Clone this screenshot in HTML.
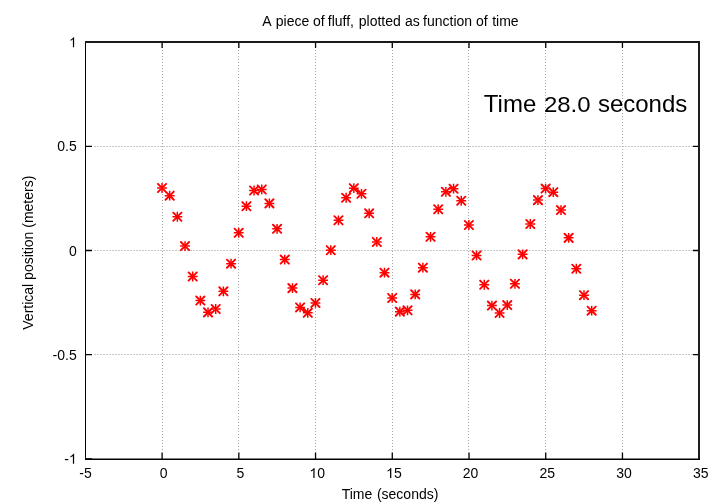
<!DOCTYPE html>
<html><head><meta charset="utf-8"><style>
html,body{margin:0;padding:0;background:#fff;}
body{width:720px;height:504px;overflow:hidden;font-family:"Liberation Sans",sans-serif;}
svg{display:block;will-change:transform;}
</style></head><body>
<svg width="720" height="504" viewBox="0 0 720 504">
<g stroke="#c8c8c8" stroke-width="1" stroke-dasharray="2 1" fill="none"><line x1="94" y1="146.5" x2="693" y2="146.5" /><line x1="94" y1="250.5" x2="693" y2="250.5" /><line x1="94" y1="354.5" x2="693" y2="354.5" /></g>
<g stroke="#a8a8a8" stroke-width="1" stroke-dasharray="1 2" fill="none"><line x1="162.5" y1="44" x2="162.5" y2="452" /><line x1="238.5" y1="44" x2="238.5" y2="452" /><line x1="315.5" y1="44" x2="315.5" y2="452" /><line x1="392.5" y1="44" x2="392.5" y2="452" /><line x1="468.5" y1="44" x2="468.5" y2="452" /><line x1="545.5" y1="44" x2="545.5" y2="452" /><line x1="622.5" y1="44" x2="622.5" y2="452" /></g>
<path d="M162.10 459V452.5M162.10 42V48M238.83 459V452.5M238.83 42V48M315.55 459V452.5M315.55 42V48M392.28 459V452.5M392.28 42V48M469.00 459V452.5M469.00 42V48M545.73 459V452.5M545.73 42V48M622.45 459V452.5M622.45 42V48M86 42.20H92M86 146.35H92M698 146.35H693M86 250.50H92M698 250.50H693M86 354.65H92M698 354.65H693M86 458.80H92" stroke="#000" stroke-width="1.3" fill="none"/>
<rect x="85" y="41" width="1" height="419" fill="#000"/>
<rect x="85" y="41" width="615" height="2" fill="#1a1a1a"/>
<rect x="698" y="41" width="2" height="419" fill="#1e1e1e"/>
<rect x="85" y="458.5" width="615" height="1.5" fill="#000"/>
<path d="M157.10 188.01h9.8M162.00 183.11v9.8M164.77 195.66h9.8M169.67 190.76v9.8M172.44 216.74h9.8M177.34 211.84v9.8M180.12 246.08h9.8M185.02 241.18v9.8M187.79 276.51h9.8M192.69 271.61v9.8M195.46 300.56h9.8M200.36 295.66v9.8M203.13 312.36h9.8M208.03 307.46v9.8M210.81 309.02h9.8M215.71 304.12v9.8M218.48 291.35h9.8M223.38 286.45v9.8M226.15 263.67h9.8M231.05 258.77v9.8M233.83 232.77h9.8M238.73 227.87v9.8M241.50 206.22h9.8M246.40 201.32v9.8M249.17 190.50h9.8M254.07 185.60v9.8M256.84 189.47h9.8M261.74 184.57v9.8M264.52 203.39h9.8M269.42 198.49v9.8M272.19 228.84h9.8M277.09 223.94v9.8M279.86 259.59h9.8M284.76 254.69v9.8M287.53 288.12h9.8M292.43 283.22v9.8M295.21 307.44h9.8M300.11 302.54v9.8M302.88 312.81h9.8M307.78 307.91v9.8M310.55 302.93h9.8M315.45 298.03v9.8M318.22 280.22h9.8M323.12 275.32v9.8M325.90 250.22h9.8M330.80 245.32v9.8M333.57 220.30h9.8M338.47 215.40v9.8M341.24 197.77h9.8M346.14 192.87v9.8M348.91 188.15h9.8M353.81 183.25v9.8M356.59 193.79h9.8M361.49 188.89v9.8M364.26 213.32h9.8M369.16 208.42v9.8M371.93 241.96h9.8M376.83 237.06v9.8M379.60 272.68h9.8M384.50 267.78v9.8M387.28 297.97h9.8M392.18 293.07v9.8M394.95 311.64h9.8M399.85 306.74v9.8M402.62 310.34h9.8M407.52 305.44v9.8M410.29 294.39h9.8M415.19 289.49v9.8M417.97 267.69h9.8M422.87 262.79v9.8M425.64 236.79h9.8M430.54 231.89v9.8M433.31 209.24h9.8M438.21 204.34v9.8M440.98 191.79h9.8M445.88 186.89v9.8M448.66 188.72h9.8M453.56 183.82v9.8M456.33 200.77h9.8M461.23 195.87v9.8M464.00 225.00h9.8M468.90 220.10v9.8M471.67 255.47h9.8M476.57 250.57v9.8M479.35 284.73h9.8M484.25 279.83v9.8M487.02 305.60h9.8M491.92 300.70v9.8M494.69 312.99h9.8M499.59 308.09v9.8M502.36 305.07h9.8M507.26 300.17v9.8M510.03 283.80h9.8M514.93 278.90v9.8M517.71 254.37h9.8M522.61 249.47v9.8M525.38 223.99h9.8M530.28 219.09v9.8M533.05 200.11h9.8M537.95 195.21v9.8M540.73 188.56h9.8M545.62 183.66v9.8M548.40 192.18h9.8M553.30 187.28v9.8M556.07 210.07h9.8M560.97 205.17v9.8M563.74 237.87h9.8M568.64 232.97v9.8M571.42 268.76h9.8M576.32 263.86v9.8M579.09 295.17h9.8M583.99 290.27v9.8M586.76 310.65h9.8M591.66 305.75v9.8" stroke="#f00" stroke-width="1.5" fill="none"/>
<path d="M157.90 183.91l8.2 8.2M157.90 192.11l8.2 -8.2M165.57 191.56l8.2 8.2M165.57 199.76l8.2 -8.2M173.25 212.64l8.2 8.2M173.25 220.84l8.2 -8.2M180.92 241.98l8.2 8.2M180.92 250.18l8.2 -8.2M188.59 272.41l8.2 8.2M188.59 280.61l8.2 -8.2M196.26 296.46l8.2 8.2M196.26 304.66l8.2 -8.2M203.94 308.26l8.2 8.2M203.94 316.46l8.2 -8.2M211.61 304.92l8.2 8.2M211.61 313.12l8.2 -8.2M219.28 287.25l8.2 8.2M219.28 295.45l8.2 -8.2M226.95 259.57l8.2 8.2M226.95 267.77l8.2 -8.2M234.63 228.67l8.2 8.2M234.63 236.87l8.2 -8.2M242.30 202.12l8.2 8.2M242.30 210.32l8.2 -8.2M249.97 186.40l8.2 8.2M249.97 194.60l8.2 -8.2M257.64 185.37l8.2 8.2M257.64 193.57l8.2 -8.2M265.31 199.29l8.2 8.2M265.31 207.49l8.2 -8.2M272.99 224.74l8.2 8.2M272.99 232.94l8.2 -8.2M280.66 255.49l8.2 8.2M280.66 263.69l8.2 -8.2M288.33 284.02l8.2 8.2M288.33 292.22l8.2 -8.2M296.00 303.34l8.2 8.2M296.00 311.54l8.2 -8.2M303.68 308.71l8.2 8.2M303.68 316.91l8.2 -8.2M311.35 298.83l8.2 8.2M311.35 307.03l8.2 -8.2M319.02 276.12l8.2 8.2M319.02 284.32l8.2 -8.2M326.69 246.12l8.2 8.2M326.69 254.32l8.2 -8.2M334.37 216.20l8.2 8.2M334.37 224.40l8.2 -8.2M342.04 193.67l8.2 8.2M342.04 201.87l8.2 -8.2M349.71 184.05l8.2 8.2M349.71 192.25l8.2 -8.2M357.38 189.69l8.2 8.2M357.38 197.89l8.2 -8.2M365.06 209.22l8.2 8.2M365.06 217.42l8.2 -8.2M372.73 237.86l8.2 8.2M372.73 246.06l8.2 -8.2M380.40 268.58l8.2 8.2M380.40 276.78l8.2 -8.2M388.07 293.87l8.2 8.2M388.07 302.07l8.2 -8.2M395.75 307.54l8.2 8.2M395.75 315.74l8.2 -8.2M403.42 306.24l8.2 8.2M403.42 314.44l8.2 -8.2M411.09 290.29l8.2 8.2M411.09 298.49l8.2 -8.2M418.76 263.59l8.2 8.2M418.76 271.79l8.2 -8.2M426.44 232.69l8.2 8.2M426.44 240.89l8.2 -8.2M434.11 205.14l8.2 8.2M434.11 213.34l8.2 -8.2M441.78 187.69l8.2 8.2M441.78 195.89l8.2 -8.2M449.45 184.62l8.2 8.2M449.45 192.82l8.2 -8.2M457.13 196.67l8.2 8.2M457.13 204.87l8.2 -8.2M464.80 220.90l8.2 8.2M464.80 229.10l8.2 -8.2M472.47 251.37l8.2 8.2M472.47 259.57l8.2 -8.2M480.14 280.63l8.2 8.2M480.14 288.83l8.2 -8.2M487.82 301.50l8.2 8.2M487.82 309.70l8.2 -8.2M495.49 308.89l8.2 8.2M495.49 317.09l8.2 -8.2M503.16 300.97l8.2 8.2M503.16 309.17l8.2 -8.2M510.83 279.70l8.2 8.2M510.83 287.90l8.2 -8.2M518.51 250.27l8.2 8.2M518.51 258.47l8.2 -8.2M526.18 219.89l8.2 8.2M526.18 228.09l8.2 -8.2M533.85 196.01l8.2 8.2M533.85 204.21l8.2 -8.2M541.52 184.46l8.2 8.2M541.52 192.66l8.2 -8.2M549.20 188.08l8.2 8.2M549.20 196.28l8.2 -8.2M556.87 205.97l8.2 8.2M556.87 214.17l8.2 -8.2M564.54 233.77l8.2 8.2M564.54 241.97l8.2 -8.2M572.22 264.66l8.2 8.2M572.22 272.86l8.2 -8.2M579.89 291.07l8.2 8.2M579.89 299.27l8.2 -8.2M587.56 306.55l8.2 8.2M587.56 314.75l8.2 -8.2" stroke="#f00" stroke-width="1.9" stroke-linecap="round" fill="none"/>
<g font-family="Liberation Sans, sans-serif" fill="#000"><text x="262.17" y="25.7" font-size="14">A</text><text x="275.8" y="25.7" font-size="14">piece</text><text x="313.0" y="25.7" font-size="14">of</text><text x="327.8" y="25.7" font-size="14">fluff,</text><text x="358.8" y="25.7" font-size="14">plotted</text><text x="405.0" y="25.7" font-size="14">as</text><text x="423.1" y="25.7" font-size="14">function</text><text x="475.9" y="25.7" font-size="14">of</text><text x="492.2" y="25.7" font-size="14">time</text><text x="483.8" y="111.9" font-size="24">Time</text><text transform="translate(543.9 111.9) scale(1 0.945)" font-size="24">28.0</text><text x="597.9" y="111.9" font-size="24">seconds</text><text x="57.24" y="151.35" font-size="14">0.5</text><text x="68.91" y="255.50" font-size="14">0</text><text x="52.58" y="359.65" font-size="14">-0.5</text><text x="64.25" y="463.80" font-size="14">-</text><text x="79.25" y="477.90" font-size="14">-5</text><text x="159.81" y="477.90" font-size="14">0</text><text x="236.53" y="477.90" font-size="14">5</text><text x="317.15" y="477.90" font-size="14">0</text><text x="393.88" y="477.90" font-size="14">5</text><text x="462.81" y="477.90" font-size="14">20</text><text x="539.54" y="477.90" font-size="14">25</text><text x="616.26" y="477.90" font-size="14">30</text><text x="692.99" y="477.90" font-size="14">35</text><text x="341.7" y="498.8" font-size="14">Time</text><text x="376.9" y="498.8" font-size="14">(seconds)</text><text transform="translate(32.9,329.7) rotate(-90)" font-size="14">Vertical position (meters)</text><path transform="translate(68.91 47.20) scale(0.006836 -0.006836)" d="M763 0H583V1147Q518 1085 412 1023Q307 961 223 930V1104Q374 1175 487 1276Q600 1377 647 1466H763Z"/><path transform="translate(68.91 463.80) scale(0.006836 -0.006836)" d="M763 0H583V1147Q518 1085 412 1023Q307 961 223 930V1104Q374 1175 487 1276Q600 1377 647 1466H763Z"/><path transform="translate(309.36 477.90) scale(0.006836 -0.006836)" d="M763 0H583V1147Q518 1085 412 1023Q307 961 223 930V1104Q374 1175 487 1276Q600 1377 647 1466H763Z"/><path transform="translate(386.09 477.90) scale(0.006836 -0.006836)" d="M763 0H583V1147Q518 1085 412 1023Q307 961 223 930V1104Q374 1175 487 1276Q600 1377 647 1466H763Z"/></g>
</svg>
</body></html>
